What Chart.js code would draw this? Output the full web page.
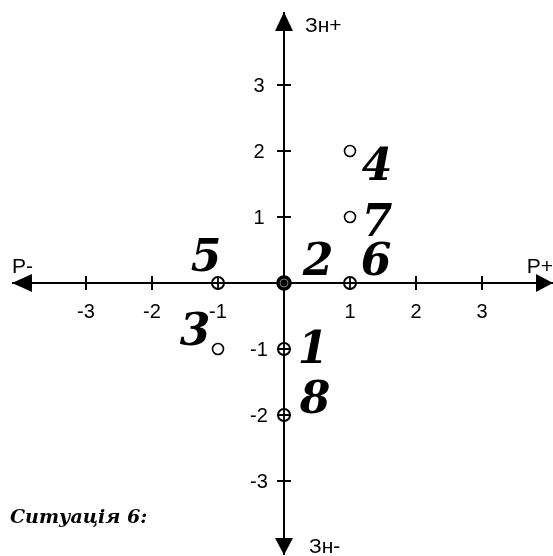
<!DOCTYPE html>
<html lang="uk">
<head>
    <meta charset="UTF-8">
    <title>Ситуація 6</title>
    <script src="https://cdn.jsdelivr.net/npm/chart.js"></script>
    <style>
        html, body { margin: 0; padding: 0; background: #fff; }
        #wrap { width: 553px; height: 556px; }
    </style>
</head>
<body>
    <div id="wrap"><canvas id="chart" width="553" height="556"></canvas></div>

    <script>
        // situation points: x = Р axis, y = Зн axis
        const pointNames = ['1', '2', '3', '4', '5', '6', '7', '8'];
        const pointX = [0, 0, -1, 1, -1, 1, 1, 0];
        const pointY = [-1, 0, -1, 2, 0, 0, 1, -2];
        // marker kind: 'cross' = circle with cross, 'open' = empty circle, 'dot' = filled
        const pointKind = ['cross', 'dot', 'open', 'open', 'cross', 'cross', 'open', 'cross'];

        const xTicks = [-3, -2, -1, 1, 2, 3];
        const yTicks = [-3, -2, -1, 1, 2, 3];
        const xAxisNames = ['Р-', 'Р+'];
        const yAxisNames = ['Зн+', 'Зн-'];
        const caption = 'Ситуація 6:';

        // label offsets from the marker (px), only for placing the big numbers
        const labelOffsets = [[29, 14], [34, -8], [-23, -4], [27, 29], [-12, -12], [26, -8], [27, 19], [31, -2]];

        function pick(kind) {
            const out = [];
            pointX.forEach((x, i) => {
                if (pointKind[i] === kind) out.push({ x: x, y: pointY[i] });
            });
            return out;
        }

        // geometry: origin at (284, 283), 66 px per unit
        const unit = 66;
        const pad = { left: 12, top: 12, right: 0, bottom: 1 };
        const originX = 284, originY = 283;
        const xMin = -(originX - pad.left) / unit;
        const xMax = (553 - pad.right - originX) / unit;
        const yMax = (originY - pad.top) / unit;
        const yMin = -(556 - pad.bottom - originY) / unit;

        const decor = {
            id: 'decor',
            beforeDatasetsDraw(chart) {
                const { ctx, chartArea: a, scales: { x, y } } = chart;
                const x0 = x.getPixelForValue(0);
                const y0 = y.getPixelForValue(0);
                ctx.save();
                ctx.strokeStyle = '#000';
                ctx.fillStyle = '#000';
                ctx.lineWidth = 2;

                // axes and tick marks across them
                ctx.beginPath();
                ctx.moveTo(a.left, y0);
                ctx.lineTo(a.right, y0);
                ctx.moveTo(x0, a.top);
                ctx.lineTo(x0, a.bottom);
                xTicks.forEach(v => {
                    const px = x.getPixelForValue(v);
                    ctx.moveTo(px, y0 - 7);
                    ctx.lineTo(px, y0 + 7);
                });
                yTicks.forEach(v => {
                    const py = y.getPixelForValue(v);
                    ctx.moveTo(x0 - 7, py);
                    ctx.lineTo(x0 + 7, py);
                });
                ctx.stroke();

                // arrow heads
                const tri = (ax, ay, bx, by, cx, cy) => {
                    ctx.beginPath();
                    ctx.moveTo(ax, ay); ctx.lineTo(bx, by); ctx.lineTo(cx, cy);
                    ctx.closePath();
                    ctx.fill();
                };
                tri(a.left, y0, a.left + 20, y0 - 9, a.left + 20, y0 + 9);
                tri(a.right, y0, a.right - 17, y0 - 9, a.right - 17, y0 + 9);
                tri(x0, a.top, x0 - 9, a.top + 19, x0 + 9, a.top + 19);
                tri(x0, a.bottom, x0 - 9, a.bottom - 17, x0 + 9, a.bottom - 17);

                // tick labels
                ctx.font = '20px "Liberation Sans", Arial, sans-serif';
                ctx.textBaseline = 'alphabetic';
                ctx.textAlign = 'center';
                xTicks.forEach(v => {
                    ctx.fillText(String(v), x.getPixelForValue(v), y0 + 35);
                });
                yTicks.forEach(v => {
                    ctx.fillText(String(v), x0 - 25, y.getPixelForValue(v) + 7);
                });

                // axis names
                ctx.font = '21px "Liberation Sans", Arial, sans-serif';
                ctx.textAlign = 'left';
                ctx.fillText(xAxisNames[0], a.left, y0 - 10);
                ctx.fillText(yAxisNames[0], x0 + 21, a.top + 20);
                ctx.fillText(yAxisNames[1], x0 + 25, a.bottom - 2);
                ctx.textAlign = 'right';
                ctx.fillText(xAxisNames[1], a.right, y0 - 10);
                ctx.restore();
            },
            afterDraw(chart) {
                const { ctx, scales: { x, y } } = chart;
                ctx.save();
                ctx.fillStyle = '#000';
                ctx.textBaseline = 'alphabetic';
                ctx.textAlign = 'center';
                ctx.font = 'italic bold 44px "DejaVu Serif", serif';
                pointNames.forEach((name, i) => {
                    const px = x.getPixelForValue(pointX[i]) + labelOffsets[i][0];
                    const py = y.getPixelForValue(pointY[i]) + labelOffsets[i][1];
                    ctx.fillText(name, px, py);
                });
                ctx.font = 'italic bold 19px "DejaVu Serif", serif';
                ctx.textAlign = 'left';
                ctx.fillText(caption, 10, 523);
                ctx.restore();
            }
        };

        new Chart(document.getElementById('chart'), {
            type: 'scatter',
            data: {
                datasets: [
                    {
                        // cross drawn over the circles
                        data: pick('cross'),
                        pointStyle: 'cross',
                        pointRadius: 6,
                        borderColor: '#000',
                        borderWidth: 1.8
                    },
                    {
                        data: pick('cross'),
                        pointStyle: 'circle',
                        pointRadius: 6,
                        borderColor: '#000',
                        backgroundColor: '#fff',
                        borderWidth: 2
                    },
                    {
                        data: pick('open'),
                        pointStyle: 'circle',
                        pointRadius: 5.5,
                        borderColor: '#000',
                        backgroundColor: '#fff',
                        borderWidth: 1.6
                    },
                    {
                        data: pick('dot'),
                        pointStyle: 'circle',
                        pointRadius: 4,
                        borderColor: '#777',
                        backgroundColor: '#000',
                        borderWidth: 1
                    },
                    {
                        data: pick('dot'),
                        pointStyle: 'circle',
                        pointRadius: 7,
                        borderColor: '#000',
                        backgroundColor: '#000',
                        borderWidth: 1.5
                    }
                ]
            },
            options: {
                responsive: false,
                animation: false,
                events: [],
                layout: { padding: pad, autoPadding: false },
                plugins: {
                    legend: { display: false },
                    tooltip: { enabled: false }
                },
                scales: {
                    x: { type: 'linear', display: false, min: xMin, max: xMax },
                    y: { type: 'linear', display: false, min: yMin, max: yMax }
                }
            },
            plugins: [decor]
        });
    </script>
</body>
</html>
